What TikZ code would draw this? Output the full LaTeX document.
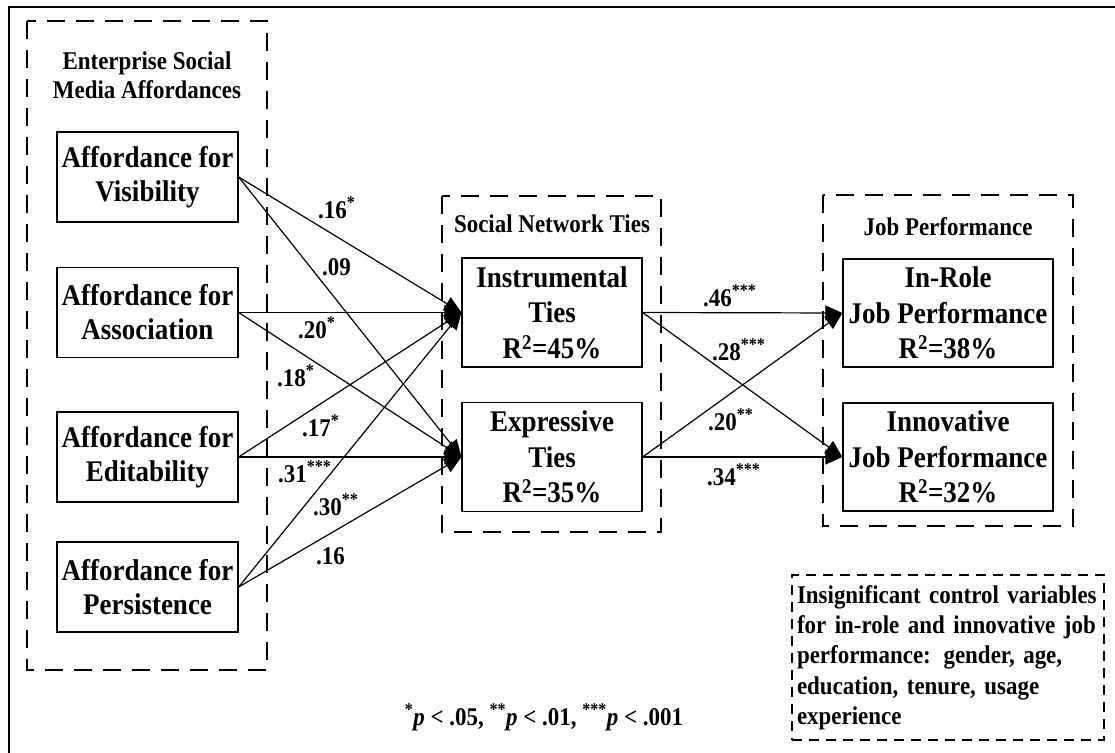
\documentclass[tikz,border=0pt]{standalone}
\usepackage{fontspec}
\setmainfont{Liberation Serif}[FakeStretch=0.9]
\usetikzlibrary{arrows.meta}

\begin{document}
\begin{tikzpicture}[x=1pt, y=-1pt,
    aff/.style={draw, line width=1.3pt, minimum width=181pt, minimum height=90pt, inner sep=0pt, align=center, font=\bfseries\fontsize{30}{34}\selectfont},
    tie/.style={draw, line width=1.3pt, minimum width=180pt, minimum height=109pt, inner sep=0pt, align=center, font=\bfseries\fontsize{30}{35.5}\selectfont},
    perf/.style={tie, minimum width=210pt, minimum height=108pt},
    grp/.style={dash pattern=on 18pt off 11pt, line width=1.3pt},
    ttl/.style={align=center, inner sep=0pt, font=\bfseries\fontsize{25.5}{29}\selectfont},
    coef/.style={anchor=base west, inner sep=0pt, font=\bfseries\fontsize{25.5}{28}\selectfont},
    link/.style={line width=1.2pt, -{Triangle[length=17pt,width=15pt]}}]
    \useasboundingbox (0,0) rectangle (1115,752);
    \draw[line width=2pt] (9,770) |- (1130,7);

    % groups
    \draw[grp] (27,21) rectangle (267,670);
    \draw[grp] (442,196) rectangle (661,532);
    \draw[grp] (823,195) rectangle (1073,526);
    \node[ttl] (esm) at (147,75) {Enterprise Social\\Media Affordances};
    \node[ttl] (snt) at (552,224) {Social Network Ties};
    \node[ttl] (jp) at (948,227) {Job Performance};

    \node[aff] (vis) at (147.5,177) {Affordance for\\Visibility};
    \node[aff] (ass) at (147.5,312.5) {Affordance for\\Association};
    \node[aff] (edi) at (147.5,457) {Affordance for\\Editability};
    \node[aff] (per) at (147.5,587) {Affordance for\\Persistence};

    \node[tie] (ins) at (552,312.5) {Instrumental\\Ties\\R\textsuperscript{2}=45\%};
    \node[tie] (exp) at (552,457) {Expressive\\Ties\\R\textsuperscript{2}=35\%};

    \node[perf] (inr) at (948,313) {In-Role\\Job Performance\\R\textsuperscript{2}=38\%};
    \node[perf] (inn) at (948,457) {Innovative\\Job Performance\\R\textsuperscript{2}=32\%};

    \draw[link] (vis.east) -- (ins.west);
    \draw[link] (vis.east) -- (exp.west);
    \draw[link] (ass.east) -- (ins.west);
    \draw[link] (ass.east) -- (exp.west);
    \draw[link] (edi.east) -- (ins.west);
    \draw[link] (edi.east) -- (exp.west);
    \draw[link] (per.east) -- (ins.west);
    \draw[link] (per.east) -- (exp.west);
    \draw[link] (ins.east) -- (inr.west);
    \draw[link] (ins.east) -- (inn.west);
    \draw[link] (exp.east) -- (inr.west);
    \draw[link] (exp.east) -- (inn.west);

    % coefficients
    \node[coef] (c1) at (318,218) {.16\textsuperscript{*}};
    \node[coef] (c2) at (322,275) {.09};
    \node[coef] (c3) at (298,338) {.20\textsuperscript{*}};
    \node[coef] (c4) at (277,386) {.18\textsuperscript{*}};
    \node[coef] (c5) at (302,436) {.17\textsuperscript{*}};
    \node[coef] (c6) at (278,482) {.31\textsuperscript{***}};
    \node[coef] (c7) at (313,515) {.30\textsuperscript{**}};
    \node[coef] (c8) at (316,564) {.16};
    \node[coef] (c9) at (703,306) {.46\textsuperscript{***}};
    \node[coef] (c10) at (712,360) {.28\textsuperscript{***}};
    \node[coef] (c11) at (708,430) {.20\textsuperscript{**}};
    \node[coef] (c12) at (707,485) {.34\textsuperscript{***}};

    \node[anchor=base, inner sep=0pt, font=\bfseries\fontsize{25.5}{28}\selectfont] (note) at (544,725)
      {\textsuperscript{*}\textit{p} < .05, \textsuperscript{**}\textit{p} < .01, \textsuperscript{***}\textit{p} < .001};

    \node[draw, dash pattern=on 10pt off 7pt, line width=1.3pt, minimum width=312pt, minimum height=165pt,
      text width=302pt, inner xsep=5pt, inner ysep=0pt, align=left, font=\bfseries\fontsize{25.5}{30.3}\selectfont] (ctrl) at (948,657.5)
      {Insignificant control variables\\for in-role and innovative job\\performance: gender, age,\\education, tenure, usage\\experience};
  \end{tikzpicture}
\end{document}
